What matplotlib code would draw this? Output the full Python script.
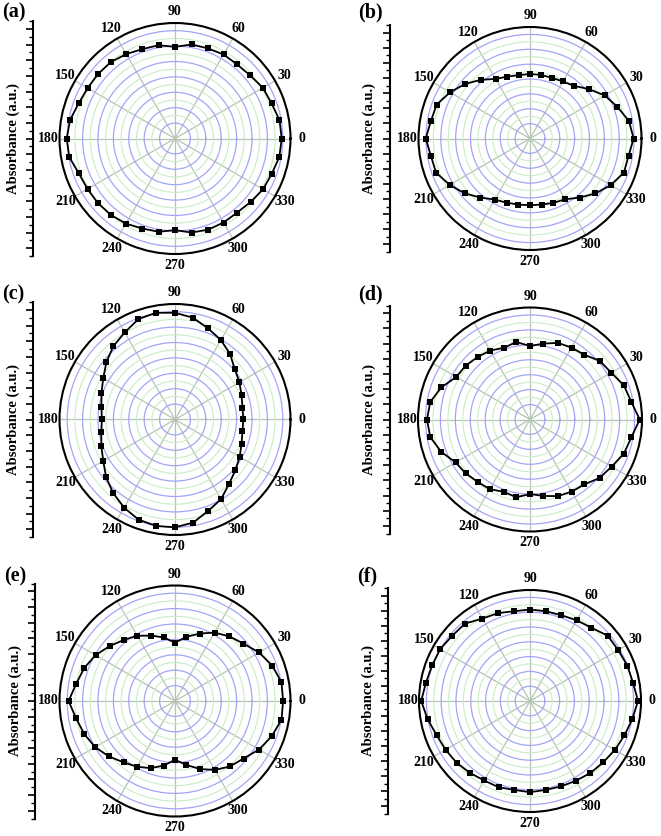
import matplotlib.pyplot as plt
import numpy as np

plt.rcParams['font.family'] = ['Liberation Serif', 'DejaVu Serif']
plt.rcParams['font.weight'] = 'bold'

# polarization angle (deg) and absorbance
angles = [0, 10, 20, 30, 40, 50, 60, 70, 80, 90, 100, 110, 120, 130, 140, 150, 160, 170,
          180, 190, 200, 210, 220, 230, 240, 250, 260, 270, 280, 290, 300, 310, 320, 330, 340, 350]

abs_a = [6.93, 6.89, 6.67, 6.59, 6.37, 6.28, 6.30, 6.23, 6.20, 5.95, 6.15, 6.18, 6.33, 6.48, 6.52, 6.55, 6.66, 6.92,
         7.03, 6.97, 6.64, 6.56, 6.53, 6.48, 6.38, 6.22, 6.15, 5.95, 6.20, 6.30, 6.30, 6.28, 6.41, 6.60, 6.69, 6.88]
abs_b = [6.97, 6.76, 6.25, 5.80, 5.17, 4.62, 4.43, 4.34, 4.34, 4.34, 4.33, 4.43, 4.63, 5.15, 5.71, 6.21, 6.68, 6.77,
         7.01, 6.77, 6.72, 6.24, 5.74, 5.19, 4.74, 4.60, 4.51, 4.49, 4.51, 4.61, 4.72, 5.19, 5.75, 6.27, 6.72, 6.73]
abs_c = [4.43, 4.45, 4.60, 4.83, 5.07, 5.56, 5.96, 6.29, 6.71, 6.93, 7.04, 6.94, 6.53, 6.22, 5.81, 5.38, 5.08, 4.85,
         4.75, 4.86, 5.09, 5.38, 5.84, 6.24, 6.61, 6.92, 7.02, 7.00, 6.80, 6.31, 5.98, 5.46, 5.12, 4.85, 4.60, 4.45]
abs_d = [7.35, 6.88, 6.69, 6.28, 6.10, 5.66, 5.56, 5.46, 5.16, 4.92, 5.27, 5.11, 5.33, 5.46, 5.62, 5.70, 6.31, 6.78,
         6.90, 6.78, 6.33, 5.75, 5.62, 5.45, 5.39, 5.15, 5.29, 4.99, 5.20, 5.46, 5.58, 5.67, 6.09, 6.31, 6.69, 6.89]
abs_e = [7.02, 7.02, 6.72, 6.30, 5.80, 5.48, 5.13, 4.66, 4.23, 3.78, 4.19, 4.52, 4.89, 5.18, 5.54, 5.96, 6.27, 6.51,
         6.91, 6.52, 6.27, 5.99, 5.60, 5.20, 4.93, 4.64, 4.26, 3.82, 4.21, 4.70, 5.17, 5.55, 5.81, 6.30, 6.69, 7.02]
abs_f = [7.30, 7.07, 7.00, 6.88, 6.86, 6.46, 6.30, 6.17, 6.16, 6.18, 6.16, 6.32, 6.43, 6.83, 6.86, 7.01, 7.04, 7.14,
         7.35, 7.03, 6.72, 6.59, 6.48, 6.33, 6.20, 6.20, 6.10, 6.16, 6.10, 6.14, 6.22, 6.35, 6.45, 6.62, 6.79, 7.02]

angle_labels = ['0', '30', '60', '90', '120', '150', '180', '210', '240', '270', '300', '330']
tags = ['(a)', '(b)', '(c)', '(d)', '(e)', '(f)']
ylabel = 'Absorbance (a.u.)'

W, H = 661, 836
fig = plt.figure(figsize=(W / 100, H / 100), dpi=100)


def polar_panel(vals, tag, cx, cy, r, axis_x, tag_y):
    # polar plot, circle fills the square axes box
    ax = fig.add_axes([(cx - r) / W, 1 - (cy + r) / H, 2 * r / W, 2 * r / H], projection='polar')
    th = np.deg2rad(angles + [angles[0]])
    ax.plot(th, vals + [vals[0]], '-', color='black', lw=1.3, zorder=3)
    ax.plot(th, vals + [vals[0]], 's', color='black', ms=4.3, mew=0, zorder=4)
    ax.set_ylim(0, 7.5)
    ax.set_yticks(np.arange(1, 7.5, 1))
    ax.set_yticks(np.arange(1.5, 7, 1), minor=True)
    ax.set_yticklabels([])
    ax.tick_params(axis='y', which='both', length=0)
    ax.set_xticks(np.deg2rad(np.arange(0, 360, 30)))
    ax.set_xticklabels(angle_labels, fontsize=10, fontweight='bold')
    ax.set_xticks(np.deg2rad(np.arange(0, 360, 10)), minor=True)
    ax.tick_params(axis='x', which='both', direction='in', length=4, width=0.9, pad=1)
    ax.xaxis.grid(True, which='major', color='#b4c4b4', lw=0.9)
    ax.yaxis.grid(True, which='major', color='#a4a4f6', lw=0.9)
    ax.yaxis.grid(True, which='minor', color='#c8ecc8', lw=0.8)
    ax.spines['polar'].set_linewidth(1.5)

    # vertical radial axis drawn on the left
    half = r + 2
    lax = fig.add_axes([axis_x / W, 1 - (cy + half) / H, 0.0001, 2 * half / H])
    for s in ['top', 'right', 'bottom']:
        lax.spines[s].set_visible(False)
    lax.spines['left'].set_linewidth(1.5)
    lax.patch.set_visible(False)
    lax.set_ylim(-7.5, 7.5)
    lax.set_yticks(np.arange(-7, 7.5, 1))
    lax.set_yticks(np.arange(-7.5, 7.6, 0.5), minor=True)
    lax.set_yticklabels([])
    lax.set_xticks([])
    lax.tick_params(axis='y', which='major', length=5, width=1.2, direction='out')
    lax.tick_params(axis='y', which='minor', length=3, width=1.0, direction='out')

    fig.text((axis_x - 20) / W, 1 - cy / H, ylabel, rotation=90, ha='center', va='center',
             fontsize=10.5, fontweight='bold')
    fig.text((axis_x - 31) / W, 1 - tag_y / H, tag, ha='left', va='center',
             fontsize=14.5, fontweight='bold')


polar_panel(abs_a, tags[0], 175, 138.5, 115.5, 33, 12.5)
polar_panel(abs_b, tags[1], 530, 138.5, 111.5, 389.5, 12.5)
polar_panel(abs_c, tags[2], 175, 419.5, 115.5, 33, 294)
polar_panel(abs_d, tags[3], 530, 419.5, 112, 389.5, 294)
polar_panel(abs_e, tags[4], 175, 701, 115.5, 35, 576)
polar_panel(abs_f, tags[5], 530, 701, 111, 388, 576)

fig.savefig('out.png', dpi=100)
